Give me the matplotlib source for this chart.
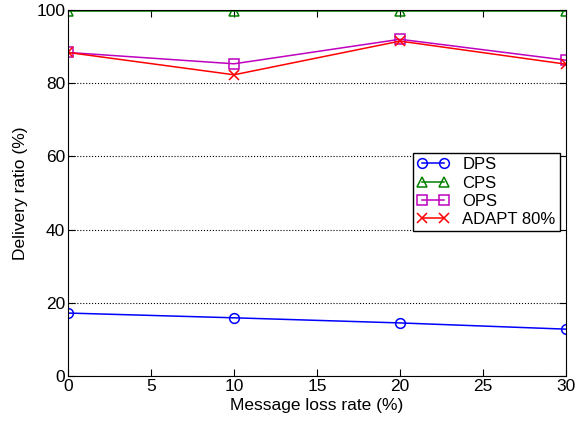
import matplotlib
matplotlib.use("Agg")
import matplotlib.pyplot as plt

plt.rcParams["font.family"] = ["Liberation Sans", "DejaVu Sans"]
plt.rcParams["font.size"] = 12.5

loss_rate = [0, 10, 20, 30]
dps = [17.2, 15.9, 14.5, 12.8]
cps = [99.8, 99.8, 99.8, 99.8]
ops = [88.4, 85.3, 92.0, 86.3]
adapt = [88.4, 82.3, 91.5, 85.2]

fig = plt.figure(figsize=(5.86, 4.21), dpi=100)
ax = fig.add_axes([68 / 586, 1 - 376 / 421, (566 - 68) / 586, (376 - 10) / 421])

style = dict(mfc="none", ms=7, mew=1.1, lw=1.1)
ax.plot(loss_rate, dps, color="blue", marker="o", label="DPS", **style)
ax.plot(loss_rate, cps, color="green", marker="^", label="CPS", **style)
ax.plot(loss_rate, ops, color="m", marker="s", label="OPS", **style)
ax.plot(loss_rate, adapt, color="red", marker="x", label="ADAPT 80%", **style)

ax.set_xlim(0, 30)
ax.set_ylim(0, 100)
ax.set_xticks(range(0, 31, 5))
ax.set_yticks(range(0, 101, 20))
ax.yaxis.grid(True, linestyle=":", color="black", lw=0.8)
ax.tick_params(direction="in", top=True, right=True, length=5, pad=2)
ax.set_xlabel("Message loss rate (%)", labelpad=3)
ax.set_ylabel("Delivery ratio (%)", labelpad=6)

ax.legend(loc="upper left", bbox_to_anchor=((413 - 68) / 498, (376 - 153) / 366),
          fancybox=False, edgecolor="black", framealpha=1, numpoints=2,
          handlelength=1.9, borderpad=0.25, labelspacing=0.2, borderaxespad=0,
          handletextpad=0.8, fontsize=12)

fig.savefig("out.png", dpi=100)
